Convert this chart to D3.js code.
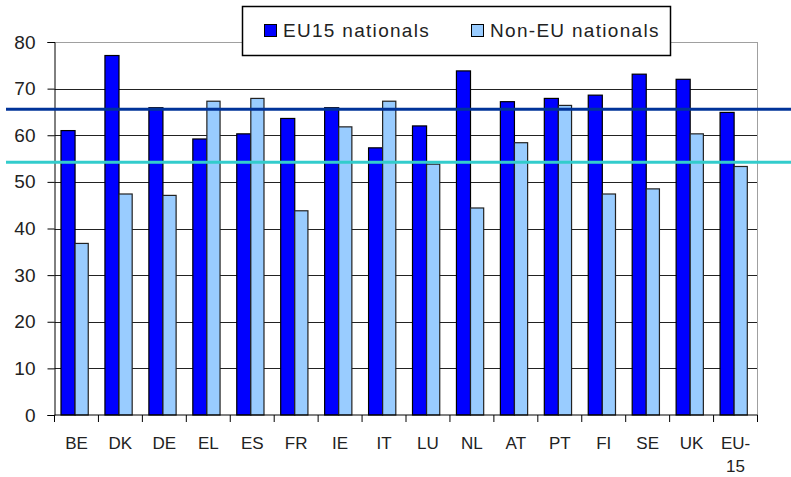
<!DOCTYPE html>
<html>
<head>
<meta charset="utf-8">
<script src="https://cdn.jsdelivr.net/npm/d3@7"></script>
<style>
  body { margin: 0; background: #fff; }
  text { font-family: "Liberation Sans", Arial, sans-serif; fill: #222; }
</style>
</head>
<body>
<script>
// categories and series
var countries = ["BE","DK","DE","EL","ES","FR","IE","IT","LU","NL","AT","PT","FI","SE","UK","EU-15"];
var eu15 = [61.0, 77.1, 65.9, 59.2, 60.3, 63.6, 65.9, 57.3, 62.0, 73.8, 67.2, 67.9, 68.6, 73.1, 72.0, 64.9];
var nonEu = [36.8, 47.4, 47.1, 67.3, 67.9, 43.8, 61.8, 67.3, 53.8, 44.4, 58.4, 66.4, 47.4, 48.5, 60.3, 53.3];
var seriesNames = ["EU15 nationals", "Non-EU nationals"];
var yTicks = [0, 10, 20, 30, 40, 50, 60, 70, 80];
// horizontal reference lines (level, colour)
var refLevels = [65.6, 54.2];
var refColors = ["#003399", "#33cccc"];

var W = 791, H = 477;
var plotL = 54.5, plotR = 757.5, plotT = 42, plotB = 415;

var svg = d3.select("body").append("svg")
    .attr("width", W)
    .attr("height", H);

var x = d3.scaleBand()
    .domain(countries)
    .range([plotL, plotR])
    .padding(0);

var y = d3.scaleLinear()
    .domain([0, 80])
    .range([plotB, plotT]);

var bw = x.bandwidth();

// gridlines
svg.append("g").selectAll("line")
    .data(yTicks.filter(function(d) { return d > 0; }))
  .enter().append("line")
    .attr("x1", plotL).attr("x2", plotR)
    .attr("y1", function(d) { return Math.round(y(d)) + 0.5; })
    .attr("y2", function(d) { return Math.round(y(d)) + 0.5; })
    .attr("stroke", function(d) { return d === 80 ? "#a0a0a0" : "#222"; })
    .attr("stroke-width", 1);

// right border of plot area
svg.append("line")
    .attr("x1", plotR).attr("x2", plotR)
    .attr("y1", y(80)).attr("y2", plotB)
    .attr("stroke", "#a0a0a0");

// bars
var groups = svg.append("g").selectAll("g")
    .data(countries)
  .enter().append("g");

groups.append("rect")
    .attr("x", function(d) { return x(d) + bw * 0.148; })
    .attr("y", function(d, i) { return y(eu15[i]); })
    .attr("width", bw * 0.32)
    .attr("height", function(d, i) { return plotB - y(eu15[i]); })
    .attr("fill", "#0000ff")
    .attr("stroke", "#000")
    .attr("stroke-width", 1.2);

groups.append("rect")
    .attr("x", function(d) { return x(d) + bw * 0.148 + bw * 0.32; })
    .attr("y", function(d, i) { return y(nonEu[i]); })
    .attr("width", bw * 0.30)
    .attr("height", function(d, i) { return plotB - y(nonEu[i]); })
    .attr("fill", "#99ccff")
    .attr("stroke", "#222")
    .attr("stroke-width", 1.2);

// y axis
var yAxis = svg.append("g")
    .attr("transform", "translate(" + plotL + ",0)")
    .call(d3.axisLeft(y).tickValues(yTicks).tickSize(7).tickPadding(12));
yAxis.select(".domain").attr("stroke", "#000");
yAxis.selectAll(".tick line").attr("stroke", "#000");
yAxis.selectAll("text")
    .style("font-size", "19px")
    .attr("fill", "#222");

// x axis: ticks on category boundaries
var xAxis = svg.append("g")
    .attr("transform", "translate(0," + plotB + ")");
xAxis.append("line")
    .attr("x1", plotL).attr("x2", plotR)
    .attr("stroke", "#000");
xAxis.selectAll(".bt")
    .data(countries.concat([null]))
  .enter().append("line")
    .attr("class", "bt")
    .attr("x1", function(d, i) { return i < countries.length ? x(d) : plotR; })
    .attr("x2", function(d, i) { return i < countries.length ? x(d) : plotR; })
    .attr("y1", 0).attr("y2", 7)
    .attr("stroke", "#000");

var xl = xAxis.selectAll(".xl")
    .data(countries)
  .enter().append("text")
    .attr("class", "xl")
    .attr("text-anchor", "middle")
    .attr("x", function(d) { return x(d) + bw / 2; })
    .attr("y", 34)
    .style("font-size", "17px");
xl.each(function(d) {
  var t = d3.select(this);
  if (d === "EU-15") {
    t.append("tspan").attr("x", x(d) + bw / 2).text("EU-");
    t.append("tspan").attr("x", x(d) + bw / 2).attr("dy", 23).text("15");
  } else {
    t.text(d);
  }
});

// reference lines across whole picture
svg.append("g").selectAll("line")
    .data(refLevels)
  .enter().append("line")
    .attr("x1", 6).attr("x2", W)
    .attr("y1", function(d) { return y(d); })
    .attr("y2", function(d) { return y(d); })
    .attr("stroke", function(d, i) { return refColors[i]; })
    .attr("stroke-width", 3);

// legend
var legend = svg.append("g");
legend.append("rect")
    .attr("x", 242.5).attr("y", 6.5)
    .attr("width", 428).attr("height", 49)
    .attr("fill", "#fff")
    .attr("stroke", "#000")
    .attr("stroke-width", 1.5);

var legX = [264, 471];
var legColors = ["#0000ff", "#99ccff"];
seriesNames.forEach(function(name, i) {
  legend.append("rect")
      .attr("x", legX[i] + 0.5).attr("y", 24.5)
      .attr("width", 12).attr("height", 12)
      .attr("fill", legColors[i])
      .attr("stroke", "#000");
  legend.append("text")
      .attr("x", legX[i] + 19)
      .attr("y", 37)
      .style("font-size", "19px")
      .style("letter-spacing", "1.3px")
      .text(name);
});
</script>
</body>
</html>
